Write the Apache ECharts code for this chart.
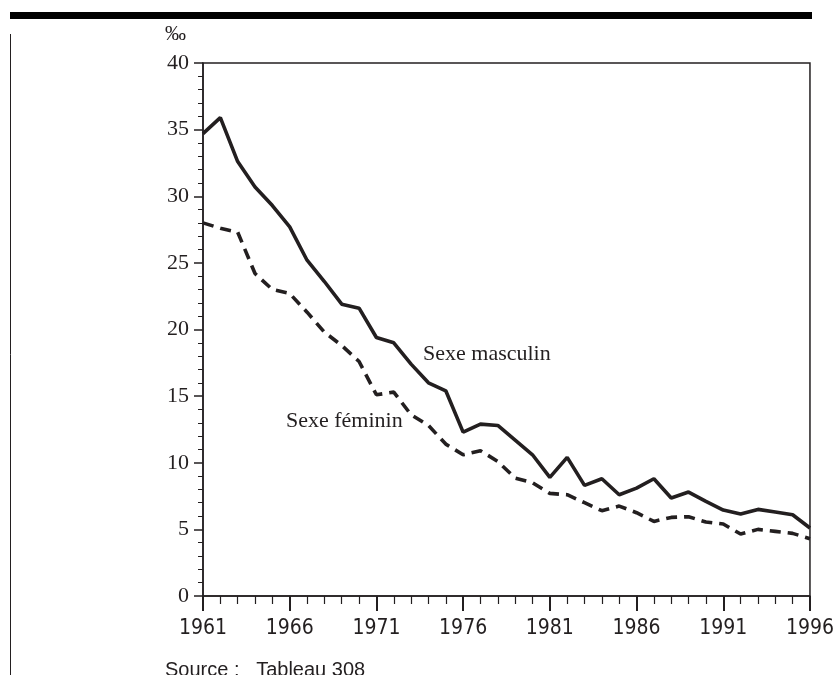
<!DOCTYPE html>
<html>
<head>
<meta charset="utf-8">
<script src="https://cdn.jsdelivr.net/npm/echarts@6/dist/echarts.min.js"></script>
<style>
  html, body { margin: 0; padding: 0; background: #fff; }
  #chart { width: 837px; height: 675px; }
</style>
</head>
<body>
<div id="chart"></div>
<script>
// data (per mille)
const startYear = 1961;
const years = [];
for (let y = 1961; y <= 1996; y++) years.push(y);

const masculin = [34.7, 35.9, 32.6, 30.7, 29.3, 27.7, 25.2, 23.6, 21.9, 21.6,
                  19.4, 19.0, 17.4, 16.0, 15.4, 12.3, 12.9, 12.8, 11.7, 10.6,
                  8.9, 10.4, 8.3, 8.8, 7.6, 8.1, 8.8, 7.35, 7.8, 7.1,
                  6.45, 6.15, 6.5, 6.3, 6.1, 5.1];
const feminin = [28.0, 27.6, 27.3, 24.2, 23.0, 22.7, 21.3, 19.8, 18.8, 17.6,
                 15.1, 15.3, 13.6, 12.8, 11.4, 10.6, 10.9, 10.1, 8.85, 8.5,
                 7.7, 7.6, 7.0, 6.4, 6.75, 6.25, 5.6, 5.9, 5.95, 5.55,
                 5.4, 4.65, 5.0, 4.85, 4.7, 4.3];

const ink = '#231f20';
const toPts = arr => arr.map((v, i) => [years[i] - startYear, v]);

const chart = echarts.init(document.getElementById('chart'));
chart.setOption({
  animation: false,
  backgroundColor: '#fff',
  grid: {
    left: 203, right: 27, top: 63, bottom: 79,
    show: true, borderColor: ink, borderWidth: 1.5
  },
  xAxis: {
    type: 'value',
    min: 0, max: 35, interval: 5,
    axisLine: { lineStyle: { color: ink, width: 1.5 } },
    axisTick: { length: 15, lineStyle: { color: ink, width: 2 } },
    minorTick: { show: true, splitNumber: 5, length: 8, lineStyle: { color: ink, width: 1.2 } },
    splitLine: { show: false },
    axisLabel: {
      margin: 22,
      color: ink,
      fontFamily: '"Liberation Sans Narrow", "DejaVu Sans Condensed", "Liberation Sans", sans-serif',
      fontSize: 21,
      formatter: v => String(v + startYear)
    }
  },
  yAxis: {
    type: 'value',
    min: 0, max: 40, interval: 5,
    axisLine: { show: true, lineStyle: { color: ink, width: 1.5 } },
    axisTick: { show: true, length: 9, lineStyle: { color: ink, width: 1.5 } },
    minorTick: { show: true, splitNumber: 5, length: 5, lineStyle: { color: ink, width: 1 } },
    splitLine: { show: false },
    axisLabel: {
      margin: 14,
      color: ink,
      fontFamily: '"Liberation Serif", serif',
      fontSize: 22
    }
  },
  series: [
    {
      name: 'Sexe masculin',
      type: 'line',
      data: toPts(masculin),
      symbol: 'none',
      lineStyle: { color: ink, width: 3.6, type: 'solid' }
    },
    {
      name: 'Sexe féminin',
      type: 'line',
      data: toPts(feminin),
      symbol: 'none',
      lineStyle: { color: ink, width: 3.6, type: [11, 7] }
    }
  ],
  graphic: [
    { type: 'rect', shape: { x: 10, y: 12, width: 802, height: 7 }, style: { fill: '#000' } },
    { type: 'line', shape: { x1: 10.5, y1: 34, x2: 10.5, y2: 675 }, style: { stroke: ink, lineWidth: 1 } },
    { type: 'text', left: 165, top: 24, style: { text: '‰', font: '21px "Liberation Serif", serif', fill: ink } },
    { type: 'text', left: 423, top: 343, style: { text: 'Sexe masculin', font: '22px "Liberation Serif", serif', fill: ink } },
    { type: 'text', left: 286, top: 410, style: { text: 'Sexe féminin', font: '22px "Liberation Serif", serif', fill: ink } },
    { type: 'text', left: 165, top: 660, style: { text: 'Source :   Tableau 308', font: '20px "Liberation Sans Narrow", "Liberation Sans", sans-serif', fill: ink } }
  ]
});
</script>
</body>
</html>
